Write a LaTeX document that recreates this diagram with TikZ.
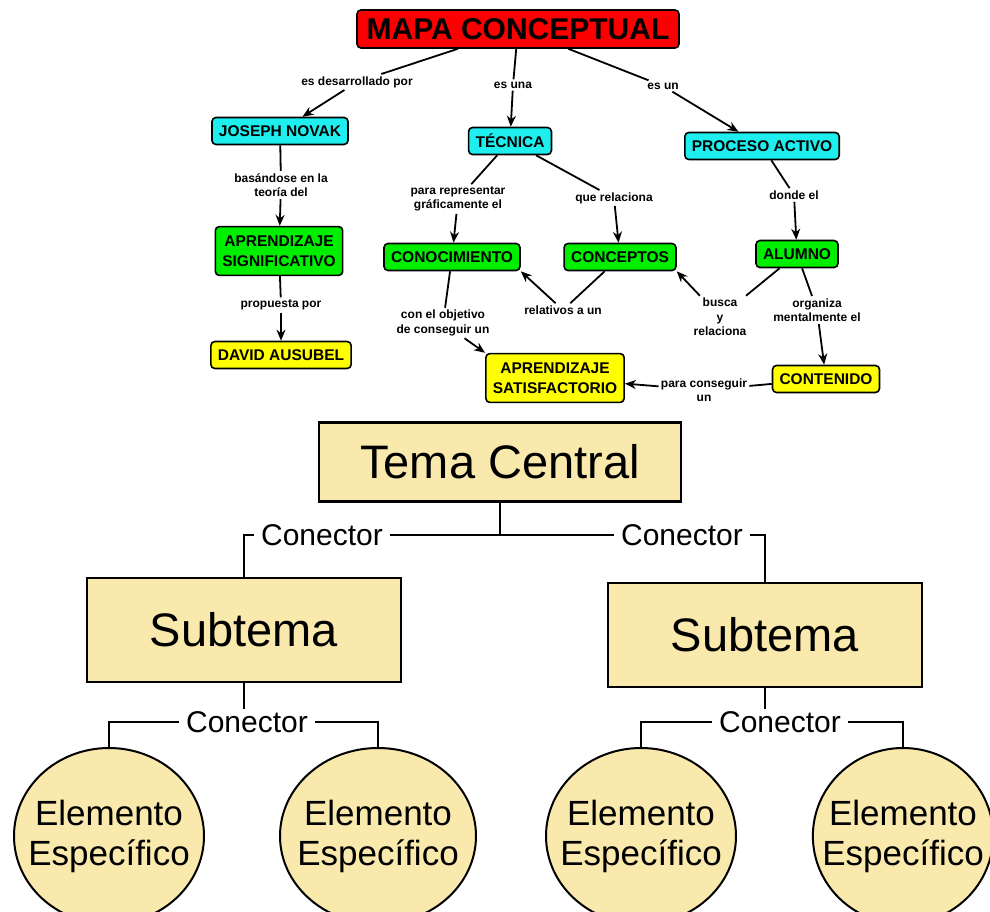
\documentclass[tikz,border=0pt]{standalone}
\usepackage{fontspec}
\setmainfont{Liberation Sans}
\usepackage{tikz}
\usetikzlibrary{%
  arrows,%
  arrows.meta,%
  shapes,% wg. ellipse
  positioning,%
  calc%
}
\definecolor{rojo}{RGB}{250,0,0}
\definecolor{cian}{RGB}{30,238,238}
\definecolor{verde}{RGB}{0,238,0}
\definecolor{amarillo}{RGB}{255,255,0}
\definecolor{crema}{RGB}{250,233,172}

\begin{document}
\begin{tikzpicture}[
  x=1pt, y=-1pt,
  >={Stealth[length=11pt,width=9pt]},
  line width=1.8pt,
  cbox/.style={draw, rounded corners=4pt, line width=1.6pt, align=center,
    inner xsep=7pt, inner ysep=5pt, minimum height=27pt,
    font=\fontsize{15.5}{20}\selectfont\bfseries},
  lbl/.style={align=center, inner sep=1.5pt,
    font=\fontsize{12}{14.5}\selectfont\bfseries},
  tema/.style={draw, line width=2.6pt, fill=crema,
    font=\fontsize{47}{50}\selectfont},
  elem/.style={ellipse, draw, line width=2pt, fill=crema, align=center,
    inner xsep=-17pt, inner ysep=0pt, minimum height=176pt,
    font=\fontsize{35}{40}\selectfont},
  cnx/.style={inner xsep=6pt, inner ysep=1pt, font=\fontsize{30}{32}\selectfont},
]
\clip (0,0) rectangle (990,911);

% mapa de arriba
\node[cbox, fill=rojo, minimum width=322pt, minimum height=38pt, inner ysep=2pt,
  font=\fontsize{30}{32}\selectfont\bfseries] (mapa) at (518,29) {MAPA CONCEPTUAL};

\node[cbox, fill=cian] (novak) at (280,131) {JOSEPH NOVAK};
\node[cbox, fill=cian] (tecnica) at (510,141) {TÉCNICA};
\node[cbox, fill=cian] (proceso) at (762,146) {PROCESO ACTIVO};
\node[cbox, fill=verde, inner ysep=9pt] (signif) at (279,251) {APRENDIZAJE\\SIGNIFICATIVO};
\node[cbox, fill=verde] (conoc) at (452,257) {CONOCIMIENTO};
\node[cbox, fill=verde] (concep) at (620,257) {CONCEPTOS};
\node[cbox, fill=verde] (alumno) at (797,254) {ALUMNO};
\node[cbox, fill=amarillo] (ausubel) at (281,355) {DAVID AUSUBEL};
\node[cbox, fill=amarillo, inner ysep=9pt] (satisf) at (555,378) {APRENDIZAJE\\SATISFACTORIO};
\node[cbox, fill=amarillo] (conten) at (826,379) {CONTENIDO};

\node[lbl] (desarr) at (357,82) {es desarrollado por};
\node[lbl] (esuna) at (513,85) {es una};
\node[lbl] (esun) at (663,86) {es un};
\node[lbl] (basand) at (281,185) {basándose en la\\teoría del};
\node[lbl] (repres) at (458,199) {para representar\\gráficamente el};
\node[lbl] (relac) at (614,198) {que relaciona};
\node[lbl] (donde) at (794,195) {donde el};
\node[lbl] (propu) at (281,305) {propuesta por};
\node[lbl] (objet) at (443,323) {con el objetivo\\de conseguir un};
\node[lbl] (relat) at (563,310) {relativos a un};
\node[lbl] (busca) at (720,317) {busca\\y\\relaciona};
\node[lbl] (organ) at (817,310) {organiza\\mentalmente el};
\node[lbl] (consig) at (704,390) {para conseguir\\un};

\draw (mapa) -- (desarr);
\draw[->] (desarr) -- (novak);
\draw (mapa) -- (esuna);
\draw[->] (esuna) -- (tecnica);
\draw (mapa) -- (esun);
\draw[->] (esun) -- (proceso);
\draw (novak) -- (basand);
\draw[->] (basand) -- (signif);
\draw (tecnica) -- (repres);
\draw[->] (repres) -- (conoc);
\draw (tecnica) -- (relac);
\draw[->] (relac) -- (concep);
\draw (proceso) -- (donde);
\draw[->] (donde) -- (alumno);
\draw (signif) -- (propu);
\draw[->] (propu) -- (ausubel);
\draw (conoc) -- (objet);
\draw[->] (objet) -- (satisf.north west);
\draw (concep) -- (relat);
\draw[->] (relat) -- (conoc.south east);
\draw (alumno) -- (busca);
\draw[->] (busca) -- (concep.south east);
\draw (alumno) -- (organ);
\draw[->] (organ) -- (conten);
\draw (conten) -- (consig);
\draw[->] (consig) -- (satisf);

% esquema de abajo
\node[tema, minimum width=362pt, minimum height=79pt] (central) at (500,462) {Tema Central};
\node[tema, minimum width=314pt, minimum height=104pt] (sub1) at (244,630) {Subtema};
\node[tema, minimum width=314pt, minimum height=104pt] (sub2) at (765,635) {Subtema};

\node[cnx] (cnxa) at (322,535) {Conector};
\node[cnx] (cnxb) at (682,535) {Conector};
\node[cnx] (cnxc) at (247,722) {Conector};
\node[cnx] (cnxd) at (780,722) {Conector};

\foreach \n/\x/\w in {1/109/190, 2/378/196, 3/641/190, 4/903/180} {
  \node[elem, minimum width=\w pt] (elem\n) at (\x,836) {Elemento\\Específico};
}

\begin{scope}[line width=2.4pt]
\draw (central.south) -- (central.south |- cnxa.east);
\draw (cnxa.east) -- (cnxb.west);
\draw (cnxa.west) -| (sub1.north);
\draw (cnxb.east) -| (sub2.north);
\draw (sub1.south) -- (sub1.south |- cnxc.north);
\draw (sub2.south) -- (sub2.south |- cnxd.north);
\draw (cnxc.west) -| (elem1.north);
\draw (cnxc.east) -| (elem2.north);
\draw (cnxd.west) -| (elem3.north);
\draw (cnxd.east) -| (elem4.north);
\end{scope}

\end{tikzpicture}
\end{document}
